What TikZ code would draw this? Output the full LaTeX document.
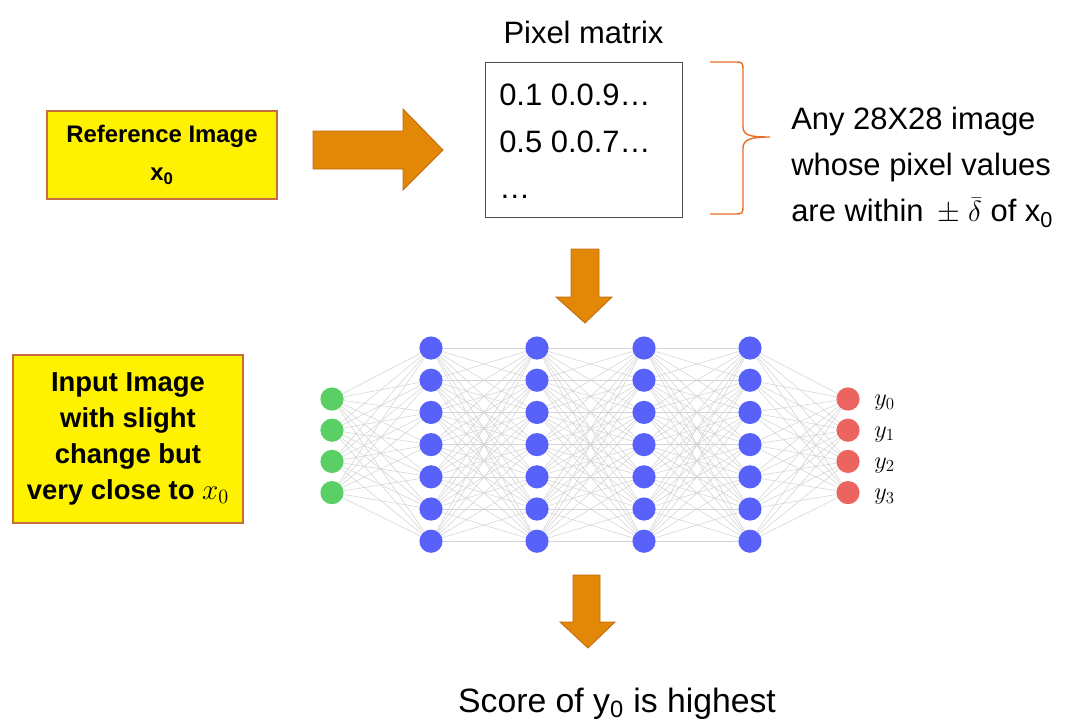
\documentclass[tikz,border=0pt]{standalone}
\usepackage{fontspec}
\setmainfont{Liberation Sans}
\usetikzlibrary{positioning,calc,backgrounds}

\definecolor{blockorange}{RGB}{226,136,6}
\definecolor{blockedge}{RGB}{190,105,20}
\definecolor{braceorange}{RGB}{232,110,40}
\definecolor{boxedge}{RGB}{200,110,60}
\definecolor{ingreen}{RGB}{90,208,100}
\definecolor{hidblue}{RGB}{88,98,250}
\definecolor{outred}{RGB}{236,100,96}

\begin{document}
\begin{tikzpicture}[x=0.025cm, y=-0.025cm,
    notebox/.style={rectangle, draw=boxedge, fill=yellow, line width=1pt, align=center, inner sep=0pt},
    plain/.style={align=left, inner sep=0pt, font=\fontsize{22}{33}\selectfont},
    bigarrow/.style={fill=blockorange, draw=blockedge, line width=0.6pt},
    neuron/.style={circle, minimum size=0.58cm, inner sep=0pt},
    link/.style={draw=black!17, line width=0.4pt}
]
    \useasboundingbox (0,0) rectangle (1068,724);

    % top row
    \node[notebox, minimum width=5.75cm, minimum height=2.2cm,
          font=\fontsize{17}{27}\selectfont\bfseries] (refimg) at (162,155)
        {Reference Image\\x\textsubscript{0}};

    \node[rectangle, draw=black!70, line width=0.6pt, minimum width=4.925cm, minimum height=3.875cm,
          inner sep=0pt] (mtx) at (583.5,139.5) {};
    \node[plain, anchor=north west] (mtxtxt) at (499,84)
        {0.1 0.0.9\dots\\0.5 0.0.7\dots\\\dots};
    \node[plain, above=0.45cm of mtx, anchor=base] (mtxlbl) {Pixel matrix};

    \draw[braceorange, line width=1pt]
        (710,62) -- (734,62) .. controls (743,62) .. (743,72) -- (743,127)
        .. controls (743,136) and (752,137) .. (770,137)
        .. controls (752,137) and (743,139) .. (743,148) -- (743,204)
        .. controls (743,214) .. (734,214) -- (710,214);
    \node[plain, anchor=west] (anytxt) at (791,167)
        {Any 28X28 image\\whose pixel values\\are within \,$\pm\;\bar{\delta}$ of x\textsubscript{0}};

    \fill[bigarrow] (313,131) -- (403,131) -- (403,109) -- (443,150) -- (403,190)
        -- (403,169) -- (313,169) -- cycle;
    \fill[bigarrow] (571,249) -- (599,249) -- (599,297) -- (612,297) -- (585,323)
        -- (556,297) -- (571,297) -- cycle;

    % network
    \foreach \i in {0,...,3} {
        \node[neuron, fill=ingreen] (in\i) at (332,399+31.2*\i) {};
        \node[neuron, fill=outred] (out\i) at (848,399+31.2*\i) {};
        \node[anchor=west, inner sep=0pt, font=\fontsize{17}{20}\selectfont] (ylbl\i) at (874,403+31.2*\i) {$y_\i$};
    }
    \foreach \l/\x in {1/431,2/537,3/644,4/750}
        \foreach \j in {0,...,6}
            \node[neuron, fill=hidblue] (h\l n\j) at (\x,348+32.2*\j) {};

    \begin{pgfonlayer}{background}
    \foreach \i in {0,...,3}
        \foreach \j in {0,...,6} {
            \draw[link] (in\i) -- (h1n\j);
            \draw[link] (h4n\j) -- (out\i);
        }
    \foreach \l/\m in {1/2,2/3,3/4}
        \foreach \i in {0,...,6}
            \foreach \j in {0,...,6}
                \draw[link] (h\l n\i) -- (h\m n\j);
    \end{pgfonlayer}

    \node[notebox, minimum width=5.75cm, minimum height=4.2cm,
          font=\fontsize{19.5}{25.5}\selectfont\bfseries] (inimg) at (128,439)
        {Input Image\\with slight\\change but\\very close to $x_0$};

    \fill[bigarrow] (573,575) -- (600,575) -- (600,622) -- (615,622) -- (588,648)
        -- (560,622) -- (573,622) -- cycle;

    \node[plain, anchor=base, font=\fontsize{24}{30}\selectfont] (score) at (617,712) {Score of y\textsubscript{0} is highest};
\end{tikzpicture}
\end{document}
